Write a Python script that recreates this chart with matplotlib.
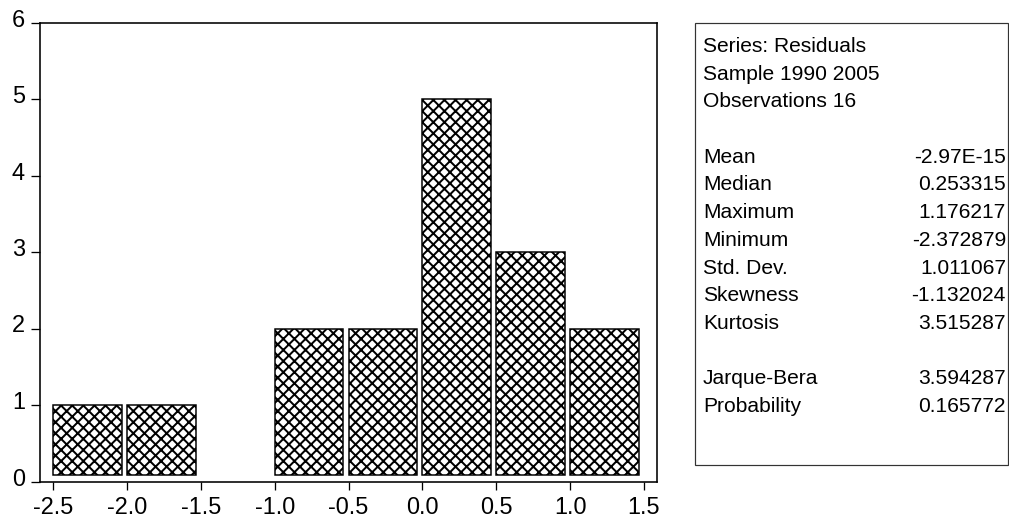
import matplotlib
matplotlib.use("Agg")
import matplotlib.pyplot as plt
import matplotlib.transforms as mtransforms
from matplotlib.patches import Rectangle

# Histogram of residuals: left bin edges and counts
bin_edges = [-2.5, -2.0, -1.5, -1.0, -0.5, 0.0, 0.5, 1.0]
counts = [1, 1, 0, 2, 2, 5, 3, 2]

x_ticks = [-2.5, -2.0, -1.5, -1.0, -0.5, 0.0, 0.5, 1.0, 1.5]
x_tick_labels = ["-2.5", "-2.0", "-1.5", "-1.0", "-0.5", "0.0", "0.5", "1.0", "1.5"]
y_ticks = [0, 1, 2, 3, 4, 5, 6]

# Descriptive statistics panel
header_lines = ["Series: Residuals", "Sample 1990 2005", "Observations 16"]
stat_names = ["Mean", "Median", "Maximum", "Minimum", "Std. Dev.", "Skewness", "Kurtosis"]
stat_values = ["-2.97E-15", "0.253315", "1.176217", "-2.372879", "1.011067", "-1.132024", "3.515287"]
test_names = ["Jarque-Bera", "Probability"]
test_values = ["3.594287", "0.165772"]

W, H = 1009, 520
DPI = 100


def pt(px):
    """Convert a length in pixels to points at the figure dpi."""
    return px * 72.0 / DPI


plt.rcParams["font.family"] = ["Liberation Sans", "DejaVu Sans"]
plt.rcParams["hatch.linewidth"] = pt(2.0)
plt.rcParams["hatch.color"] = "black"

fig = plt.figure(figsize=(W / DPI, H / DPI), dpi=DPI)
fig.patch.set_facecolor("white")

ax = fig.add_axes([40 / W, (H - 481.5) / H, 617 / W, 459 / H])

BAR_WIDTH = 0.466
BAR_FLOOR = 0.08
edges = [e for e, c in zip(bin_edges, counts) if c > 0]
heights = [c - BAR_FLOOR for c in counts if c > 0]
ax.bar(edges, heights, width=BAR_WIDTH, bottom=BAR_FLOOR, align="edge",
       facecolor="white", edgecolor="black", hatch="xxx", linewidth=pt(1.5))

ax.set_xlim(-2.588, 1.588)
ax.set_ylim(0, 6.0)
ax.set_xticks(x_ticks)
ax.set_xticklabels(x_tick_labels)
ax.set_yticks(y_ticks)

for sp in ax.spines.values():
    sp.set_linewidth(pt(1.6))
    sp.set_color("black")

FS_TICK = pt(23.5)
ax.tick_params(axis="y", direction="out", length=pt(9), width=pt(1.3),
               pad=pt(6), labelsize=FS_TICK, right=False)
ax.tick_params(axis="x", direction="out", length=pt(8), width=pt(1.3),
               pad=pt(7), labelsize=FS_TICK, top=False)

# y tick labels sit a little above their tick marks
lift = mtransforms.ScaledTranslation(0, 5 / DPI, fig.dpi_scale_trans)
for tick in ax.yaxis.get_major_ticks():
    tick.label1.set_transform(tick.label1.get_transform() + lift)

# Statistics box
box_left, box_right, box_top, box_bottom = 695, 1008, 23, 465
fig.add_artist(Rectangle((box_left / W, (H - box_bottom) / H),
                         (box_right - box_left) / W, (box_bottom - box_top) / H,
                         transform=fig.transFigure, fill=False,
                         edgecolor="#333333", linewidth=pt(1.2)))

FS_STAT = pt(21)
first_baseline = 52
row_step = 27.7
text_x = 703
value_x = 1006


def row_y(i):
    return (H - (first_baseline + row_step * i)) / H


for i, s in enumerate(header_lines):
    fig.text(text_x / W, row_y(i), s, ha="left", va="baseline", fontsize=FS_STAT)

for j, (name, val) in enumerate(zip(stat_names, stat_values)):
    i = 4 + j
    fig.text(text_x / W, row_y(i), name, ha="left", va="baseline", fontsize=FS_STAT)
    fig.text(value_x / W, row_y(i), val, ha="right", va="baseline", fontsize=FS_STAT)

for j, (name, val) in enumerate(zip(test_names, test_values)):
    i = 12 + j
    fig.text(text_x / W, row_y(i), name, ha="left", va="baseline", fontsize=FS_STAT)
    fig.text(value_x / W, row_y(i), val, ha="right", va="baseline", fontsize=FS_STAT)

fig.savefig("out.png", dpi=DPI, facecolor="white")
